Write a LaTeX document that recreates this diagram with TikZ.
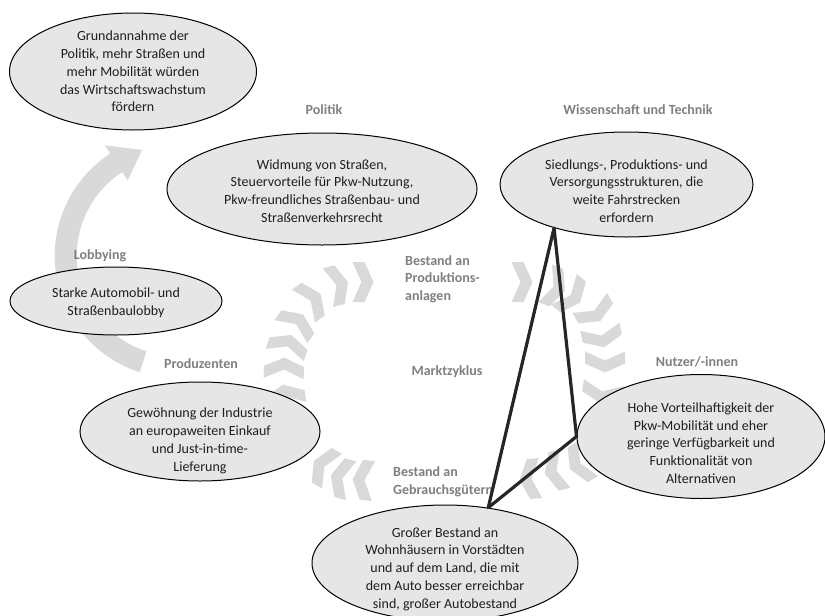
\documentclass[tikz,border=0pt]{standalone}
\usepackage{fontspec}
\setmainfont{Carlito}
\usetikzlibrary{shapes.geometric}
\definecolor{ellfill}{HTML}{E6E6E6}
\definecolor{lblgray}{HTML}{808080}
\definecolor{chevgray}{HTML}{D9D9D9}
\definecolor{linedark}{HTML}{262626}
\definecolor{txtdark}{HTML}{1E1E1E}
\begin{document}
\begin{tikzpicture}[x=1pt,y=-1pt,
  ell/.style={ellipse, draw=black, line width=1pt, fill=ellfill, inner sep=0pt},
  etext/.style={align=center, inner sep=0pt, font=\fontsize{14}{17.8}\selectfont, text=txtdark},
  lbl/.style={align=center, inner sep=0pt, font=\fontsize{14}{17.5}\selectfont\bfseries, text=lblgray},
  chev/.style={fill=chevgray},
  bigarrow/.style={fill=chevgray},
  tri/.style={draw=linedark, line width=3.2pt, line join=round}]
\useasboundingbox (0,0) rectangle (825,616);
\fill[white] (0,0) rectangle (825,616);
% big curved arrow (Lobbying loop)
\fill[bigarrow]
  plot[domain=107.6:237, samples=50] ({176.7+122*cos(\x)},{255.9+122*sin(\x)})
  -- ({176.7+132*cos(237)},{255.9+132*sin(237)})
  -- (142,150)
  -- ({176.7+90*cos(237)},{255.9+90*sin(237)})
  -- plot[domain=237:107.6, samples=50] ({176.7+100*cos(\x)},{255.9+100*sin(\x)})
  -- cycle;
% chevron ring (market cycle)
\foreach \cx/\cy/\r in {
  363/282/0, 338/285/15, 312/300/35, 297/323/55, 288/345/72, 284/368/88, 285/395/100,
  522/282/0, 555/287/-20, 572/296/-40, 595/312/-60, 602/337/-78, 605/362/-90, 602/393/-100,
  579/464/210, 555/471/195, 530/479/185,
  363/480/175, 341/478/165, 323/466/150}
  \fill[chev, shift={(\cx,\cy)}, rotate=\r]
    (-10.5,-20) -- (1.5,-20) -- (10.5,0) -- (1.5,20) -- (-10.5,20) -- (-1.5,0) -- cycle;
% gray labels
\node[lbl] (lpol) at (324,110) {Politik};
\node[lbl] (lwis) at (638,110) {Wissenschaft und Technik};
\node[lbl] (llob) at (100,256) {Lobbying};
\node[lbl] (lpro) at (201,364) {Produzenten};
\node[lbl, align=left, anchor=west] (lbpa) at (405,279) {Bestand an\\Produktions-\\anlagen};
\node[lbl] (lmar) at (447,372) {Marktzyklus};
\node[lbl] (lnut) at (697,362) {Nutzer/-innen};
\node[lbl, align=left, anchor=west] (lbgg) at (393,482) {Bestand an\\Gebrauchsgütern};
% ellipses
\node[ell, minimum width=247pt, minimum height=117pt] (e1) at (133,71.5) {};
\node[ell, minimum width=310pt, minimum height=112pt] (e2) at (322,189) {};
\node[ell, minimum width=253pt, minimum height=105pt] (e3) at (626.5,184.5) {};
\node[ell, minimum width=212pt, minimum height=68pt] (e4) at (116,301) {};
\node[ell, minimum width=240pt, minimum height=99pt] (e5) at (200,431.5) {};
\node[ell, minimum width=248pt, minimum height=124pt] (e6) at (701,436.5) {};
\node[ell, minimum width=266pt, minimum height=116pt] (e7) at (445,563) {};
% ellipse texts
\node[etext] (t1) at (133,71.5) {Grundannahme der\\Politik, mehr Straßen und\\mehr Mobilität würden\\das Wirtschaftswachstum\\fördern};
\node[etext] (t2) at (322,191) {Widmung von Straßen,\\Steuervorteile für Pkw-Nutzung,\\Pkw-freundliches Straßenbau- und\\Straßenverkehrsrecht};
\node[etext] (t3) at (626.5,191) {Siedlungs-, Produktions- und\\Versorgungsstrukturen, die\\weite Fahrstrecken\\erfordern};
\node[etext] (t4) at (116,302.5) {Starke Automobil- und\\Straßenbaulobby};
\node[etext] (t5) at (200,441) {Gewöhnung der Industrie\\an europaweiten Einkauf\\und Just-in-time-\\Lieferung};
\node[etext] (t6) at (701,443) {Hohe Vorteilhaftigkeit der\\Pkw-Mobilität und eher\\geringe Verfügbarkeit und\\Funktionalität von\\Alternativen};
\node[etext] (t7) at (445,569) {Großer Bestand an\\Wohnhäusern in Vorstädten\\und auf dem Land, die mit\\dem Auto besser erreichbar\\sind, großer Autobestand};
% black triangle
\draw[tri] (e3.211) -- (e6.west) -- (e7.52) -- cycle;
\end{tikzpicture}
\end{document}
